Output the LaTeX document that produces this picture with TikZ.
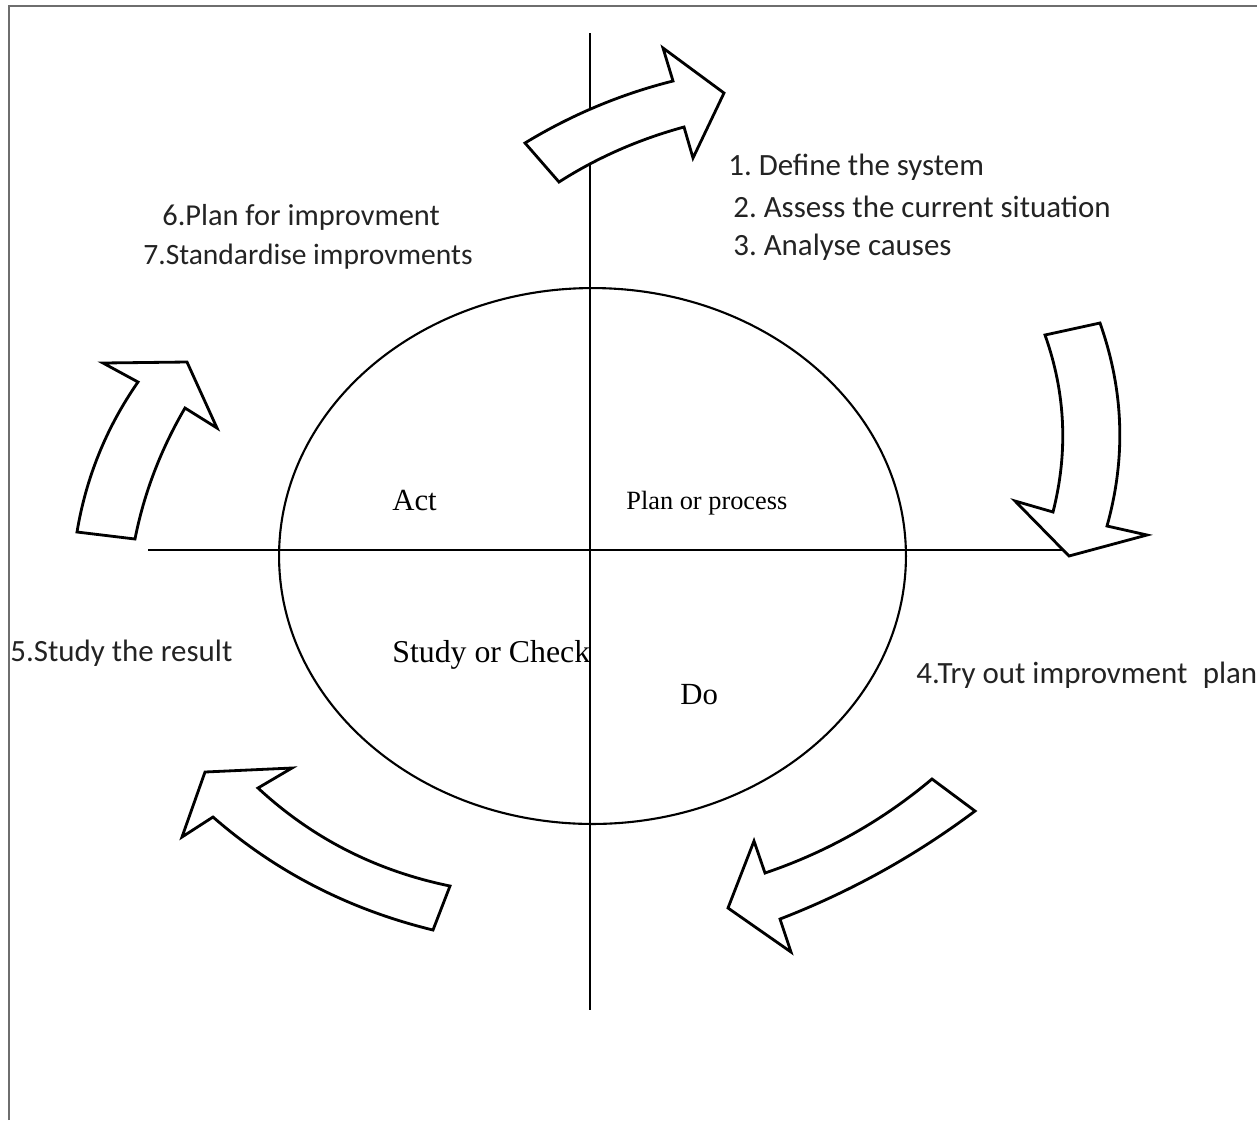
\documentclass[tikz,border=0pt]{standalone}
\usepackage{fontspec}
\setmainfont{Liberation Serif}
\newfontfamily\calib{Carlito}
\usepackage{tikz}
\usetikzlibrary{calc}
\definecolor{stepgray}{RGB}{35, 35, 35}
\definecolor{framegray}{RGB}{110, 110, 110}
\frenchspacing

\begin{document}
\begin{tikzpicture}[x=0.02cm, y=-0.02cm,
    blockarrow/.style={draw, fill=white, line width=1.6pt, line join=miter},
    steptext/.style={anchor=west, inner sep=0pt, text=stepgray, font=\calib\fontsize{17.6}{20}\selectfont},
    quarter/.style={anchor=west, inner sep=0pt, font=\fontsize{17.5}{20}\selectfont}]
  \useasboundingbox (0,0) rectangle (1257,1120);
  % frame
  \coordinate (fl) at (9,1120);
  \coordinate (fc) at (9,6);
  \coordinate (fr) at (1257,6);
  \draw[framegray, line width=0.9pt] (fl) -- (fc) -- (fr);
  % circle and axes
  \draw[line width=1.2pt] (592.5,556) ellipse [x radius=6.27cm, y radius=5.36cm];
  \coordinate (vtop) at (590,33);
  \coordinate (vbot) at (590,1010);
  \coordinate (hleft) at (148,550);
  \coordinate (hright) at (1065,550);
  \draw[line width=1.1pt] (vtop) -- (vbot);
  \draw[line width=0.8pt] (hleft) -- (hright);
  % block arrows round the cycle
  \draw[blockarrow] (525,143) .. controls (571,115) and (621,94) .. (673,81) -- (663,48) -- (724,93)
    -- (693,158) -- (684,127) .. controls (640,139) and (598,157) .. (559,182) -- cycle;
  \draw[blockarrow] (1045,335) -- (1100,323) .. controls (1124,391) and (1126,458) .. (1107,526)
    -- (1147,535) -- (1069,556) -- (1015,501) -- (1053,512)
    .. controls (1068,453) and (1066,394) .. (1045,335) -- cycle;
  \draw[blockarrow] (932,779) -- (975,811) .. controls (915,856) and (850,892) .. (780,919)
    -- (791,952) -- (728,908) -- (754,841) -- (765,873)
    .. controls (827,852) and (882,821) .. (932,779) -- cycle;
  \draw[blockarrow] (450,886) .. controls (377,871) and (313,839) .. (258,788) -- (292,768)
    -- (205,772) -- (182,837) -- (213,817) .. controls (277,873) and (351,910) .. (433,930) -- cycle;
  \draw[blockarrow] (77,532) -- (135,539) .. controls (144,493) and (161,449) .. (185,408)
    -- (217,428) -- (187,362) -- (103,363) -- (138,382)
    .. controls (106,428) and (86,478) .. (77,532) -- cycle;
  % quarter labels
  \node[quarter] (act) at (392,500) {Act};
  \node[quarter, font=\fontsize{15}{18}\selectfont] (plan) at (626,503) {Plan or process};
  \node[quarter, font=\fontsize{18.1}{20}\selectfont] (study) at (392,655) {Study or Check};
  \node[quarter] (do) at (680,695) {Do};
  % step lists
  \node[steptext] (s1) at (728,167) {1. Define the system};
  \node[steptext] (s2) at (733,207) {2. Assess the current situation};
  \node[steptext] (s3) at (733,247) {3. Analyse causes};
  \node[steptext] (s4) at (916,675) {4.Try out improvment\enspace plan};
  \node[steptext] (s5) at (10,653) {5.Study the result};
  \node[steptext, font=\calib\fontsize{17.3}{20}\selectfont] (s6) at (162,217) {6.Plan for improvment};
  \node[steptext, font=\calib\fontsize{16.8}{20}\selectfont] (s7) at (143,257) {7.Standardise improvments};
\end{tikzpicture}
\end{document}
